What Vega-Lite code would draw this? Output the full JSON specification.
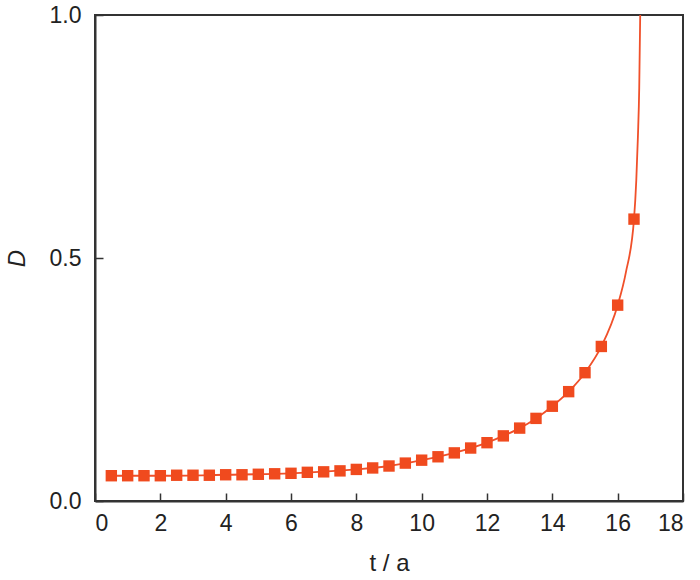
{
  "$schema": "https://vega.github.io/schema/vega-lite/v6.json",
  "autosize": "none",
  "width": 588,
  "height": 486,
  "padding": {"left": 95, "top": 15, "right": 17, "bottom": 79},
  "background": "white",
  "config": {
    "view": {"stroke": "#333333", "strokeWidth": 2},
    "font": "Liberation Sans",
    "axis": {
      "grid": false,
      "domainColor": "#333333",
      "domainWidth": 2,
      "tickColor": "#333333",
      "tickWidth": 1.5,
      "tickSize": -8,
      "labelFont": "Liberation Sans",
      "labelFontSize": 23,
      "labelColor": "#222222",
      "titleFont": "Liberation Sans",
      "titleFontSize": 24,
      "titleFontWeight": "normal",
      "titleColor": "#222222"
    }
  },
  "datasets": {
    "pts": [
      {"t": 0.5, "D": 0.052}, {"t": 1.0, "D": 0.052}, {"t": 1.5, "D": 0.052},
      {"t": 2.0, "D": 0.052}, {"t": 2.5, "D": 0.053}, {"t": 3.0, "D": 0.053},
      {"t": 3.5, "D": 0.053}, {"t": 4.0, "D": 0.054}, {"t": 4.5, "D": 0.054},
      {"t": 5.0, "D": 0.055}, {"t": 5.5, "D": 0.056}, {"t": 6.0, "D": 0.057},
      {"t": 6.5, "D": 0.059}, {"t": 7.0, "D": 0.060}, {"t": 7.5, "D": 0.062},
      {"t": 8.0, "D": 0.065}, {"t": 8.5, "D": 0.068}, {"t": 9.0, "D": 0.072},
      {"t": 9.5, "D": 0.078}, {"t": 10.0, "D": 0.084}, {"t": 10.5, "D": 0.091},
      {"t": 11.0, "D": 0.099}, {"t": 11.5, "D": 0.109}, {"t": 12.0, "D": 0.120},
      {"t": 12.5, "D": 0.134}, {"t": 13.0, "D": 0.150}, {"t": 13.5, "D": 0.170},
      {"t": 14.0, "D": 0.195}, {"t": 14.5, "D": 0.225}, {"t": 15.0, "D": 0.264},
      {"t": 15.5, "D": 0.318}, {"t": 16.0, "D": 0.403}, {"t": 16.5, "D": 0.580}
    ],
    "curve": [
      {"t": 0.5, "D": 0.052}, {"t": 2.0, "D": 0.052}, {"t": 4.0, "D": 0.054},
      {"t": 6.0, "D": 0.057}, {"t": 8.0, "D": 0.065}, {"t": 9.0, "D": 0.072},
      {"t": 10.0, "D": 0.084}, {"t": 11.0, "D": 0.099}, {"t": 12.0, "D": 0.120},
      {"t": 12.5, "D": 0.134}, {"t": 13.0, "D": 0.150}, {"t": 13.5, "D": 0.170},
      {"t": 14.0, "D": 0.195}, {"t": 14.5, "D": 0.225}, {"t": 15.0, "D": 0.264},
      {"t": 15.5, "D": 0.318}, {"t": 16.0, "D": 0.403}, {"t": 16.25, "D": 0.470},
      {"t": 16.5, "D": 0.580}, {"t": 16.57, "D": 0.660}, {"t": 16.62, "D": 0.750},
      {"t": 16.66, "D": 0.850}, {"t": 16.69, "D": 1.0}
    ]
  },
  "encoding": {
    "x": {
      "field": "t", "type": "quantitative",
      "scale": {"domain": [0, 18], "nice": false, "zero": false},
      "axis": {"values": [0, 2, 4, 6, 8, 10, 12, 14, 16, 18], "title": "t / a", "labelPadding": 19, "titlePadding": 16, "format": "d"}
    },
    "y": {
      "field": "D", "type": "quantitative",
      "scale": {"domain": [0, 1], "nice": false},
      "axis": {"values": [0, 0.5, 1], "format": ".1f", "title": "D", "titleFontStyle": "italic", "labelPadding": 22, "titlePadding": 20}
    }
  },
  "layer": [
    {
      "data": {"name": "curve"},
      "mark": {"type": "line", "interpolate": "monotone", "color": "#F0502A", "strokeWidth": 1.8, "clip": true}
    },
    {
      "data": {"name": "pts"},
      "mark": {"type": "square", "filled": true, "color": "#F04A1E", "size": 130, "opacity": 1}
    }
  ]
}
